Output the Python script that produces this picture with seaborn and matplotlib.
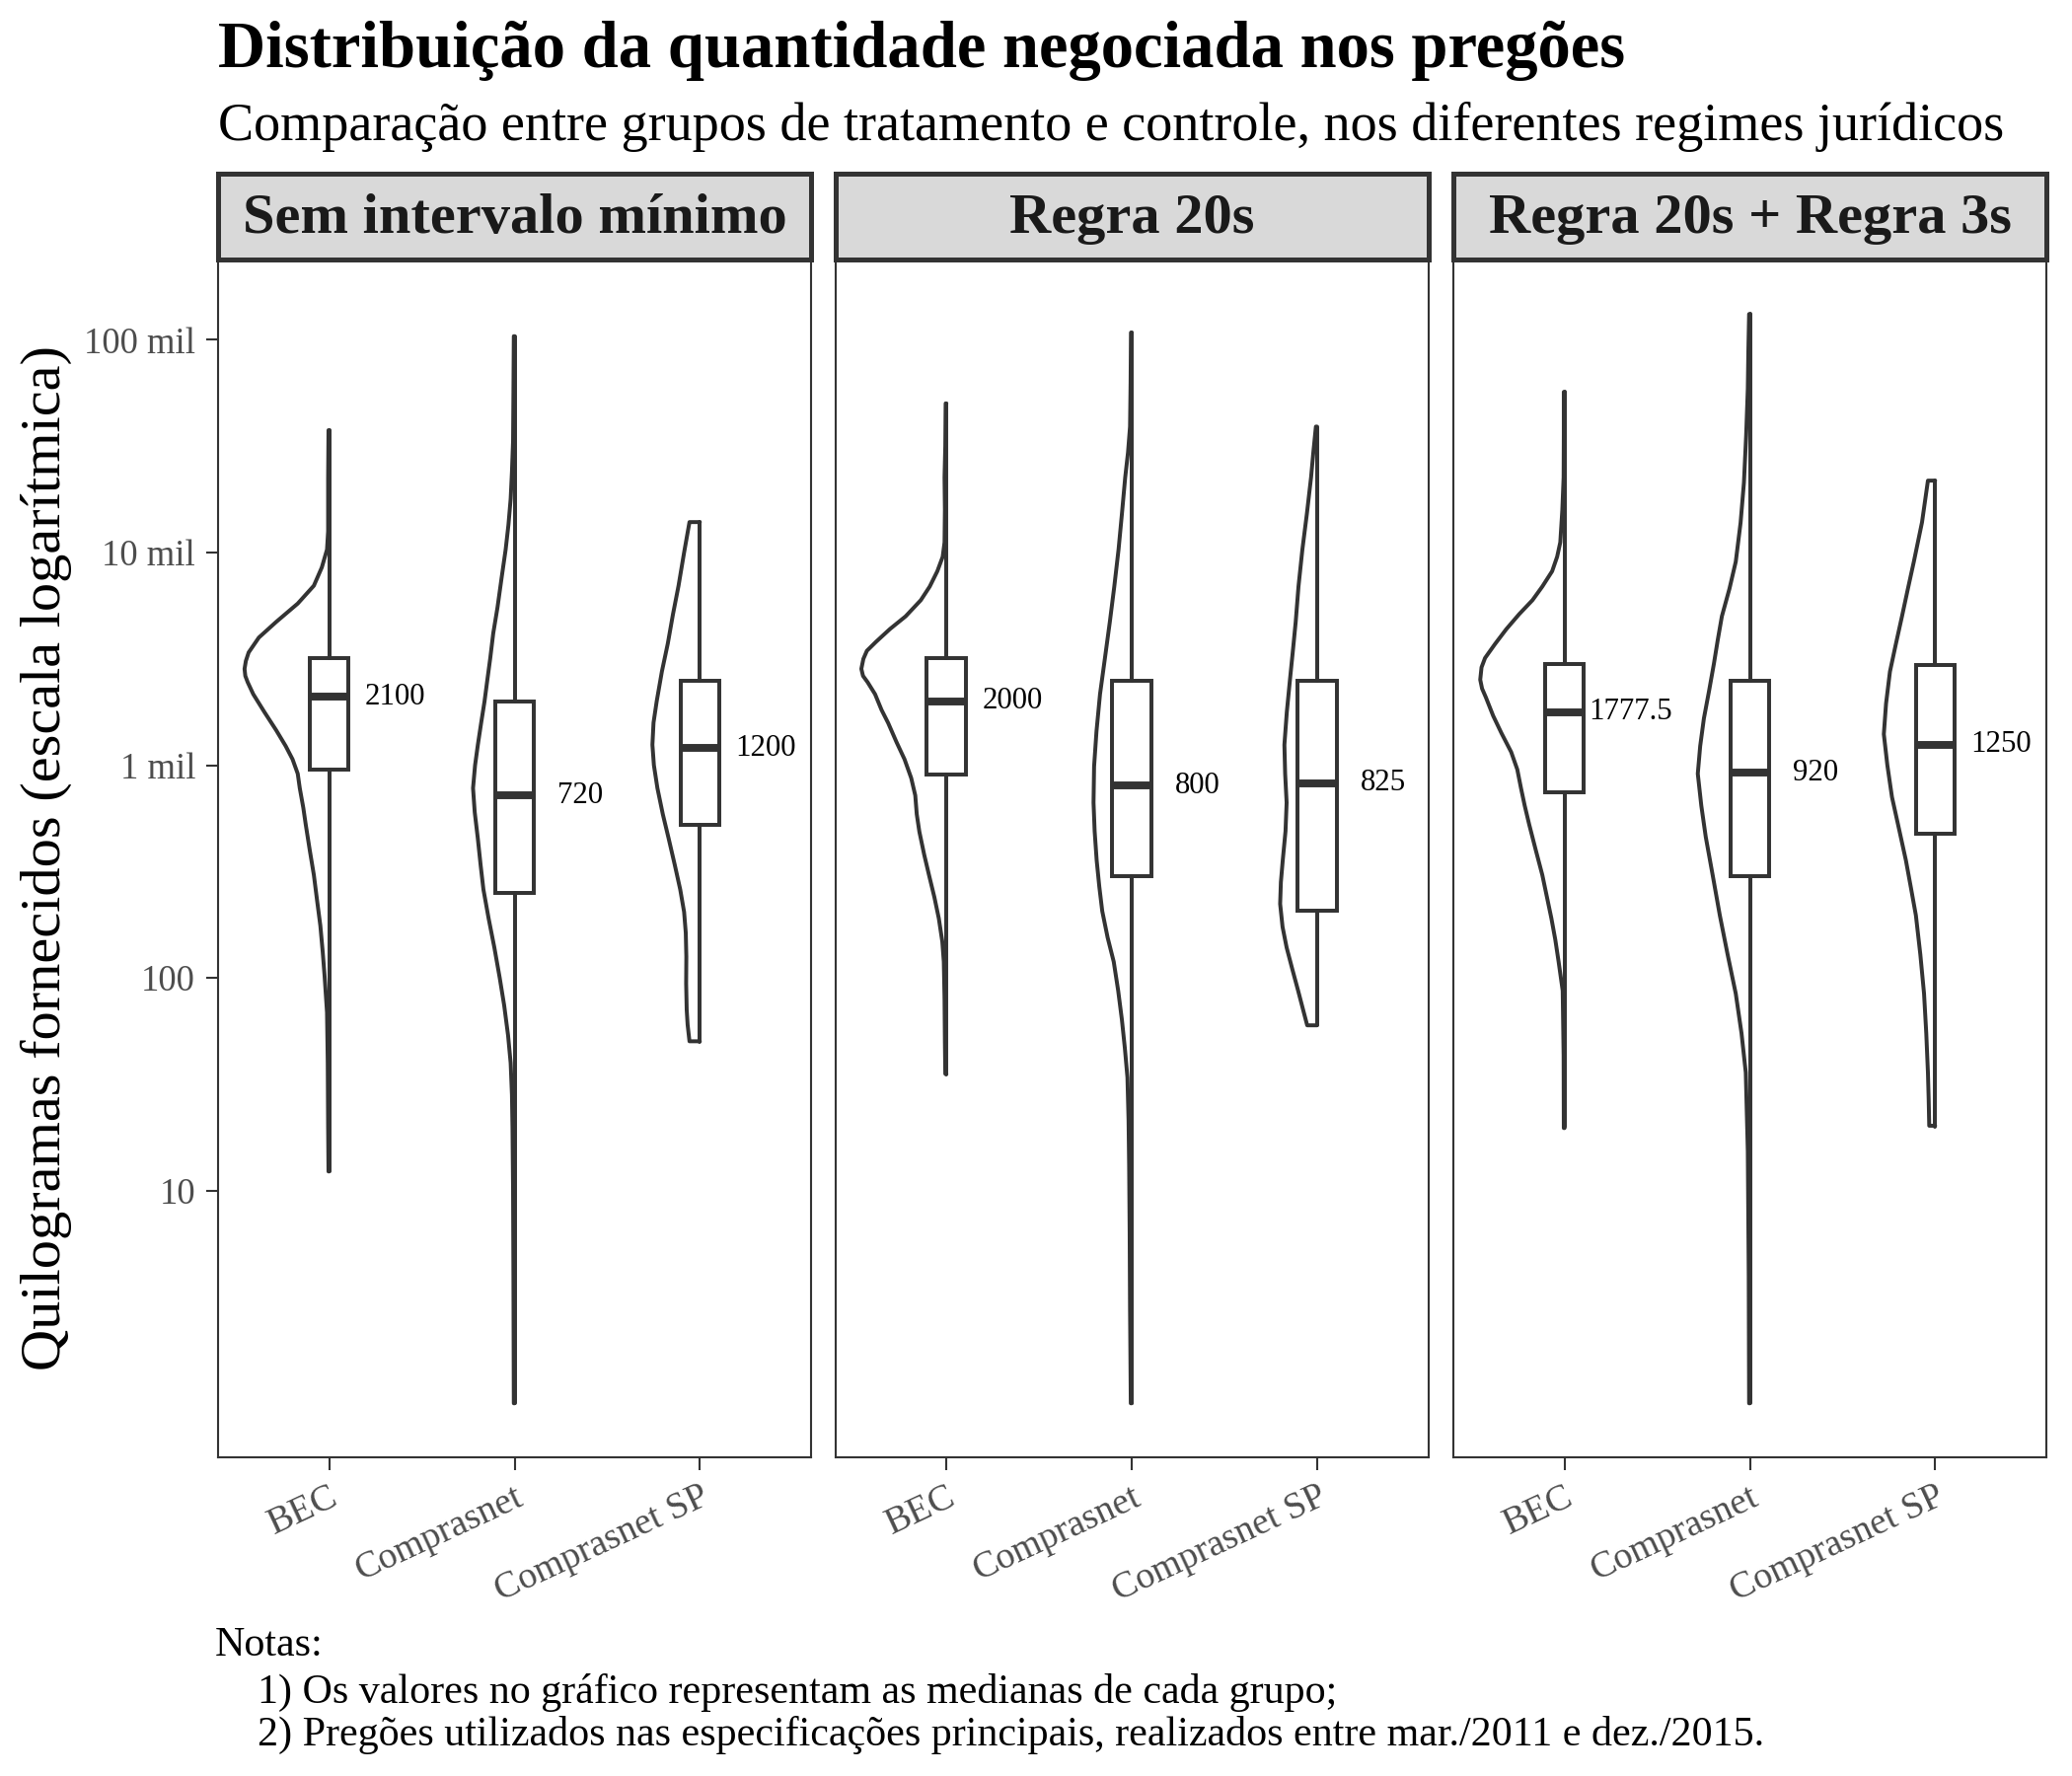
import numpy as np
import pandas as pd
import matplotlib.pyplot as plt
import seaborn as sns
from matplotlib.ticker import NullLocator

# ─────────────────────────────────────────────
# SETTINGS
# ─────────────────────────────────────────────
sns.set_theme(style="white")
plt.rcParams['font.family'] = ['Liberation Serif', 'DejaVu Serif']
plt.rcParams['axes.unicode_minus'] = False

ESCURO = '#333333'
CINZA = '#4D4D4D'

# ─────────────────────────────────────────────
# DATA (kg)
# ─────────────────────────────────────────────
regimes = ["Sem intervalo mínimo", "Regra 20s", "Regra 20s + Regra 3s"]
plataformas = ["BEC", "Comprasnet", "Comprasnet SP"]

# box statistics, one list per regime, order = plataformas
medianas_sem = [2100, 720, 1200]
q1_sem = [950, 250, 525]
q3_sem = [3200, 2000, 2500]
min_sem = [12.3, 1, 50]
max_sem = [37600, 104000, 13900]

medianas_20s = [2000, 800, 825]
q1_20s = [900, 300, 206]
q3_20s = [3200, 2500, 2500]
min_20s = [35, 1, 60]
max_20s = [50000, 108000, 39000]

medianas_3s = [1777.5, 920, 1250]
q1_3s = [745, 300, 478]
q3_3s = [3000, 2500, 2950]
min_3s = [20, 1, 20]
max_3s = [57000, 132000, 21800]

# violin outlines: log10(kg) levels and half-widths (x units), top to bottom
niv_sem_bec = [4.575, 4.35, 4.10, 4.014, 3.93, 3.844, 3.76, 3.674, 3.60, 3.53, 3.49, 3.453, 3.42,
               3.39, 3.334, 3.25, 3.164, 3.09, 3.028, 2.96, 2.892, 2.80, 2.722, 2.60, 2.484, 2.36,
               2.246, 2.12, 2.008, 1.838, 1.60, 1.30, 1.09]
lar_sem_bec = [0.004, 0.006, 0.006, 0.012, 0.04, 0.083, 0.17, 0.286, 0.38, 0.435, 0.45, 0.457, 0.453,
               0.44, 0.41, 0.35, 0.286, 0.235, 0.198, 0.17, 0.159, 0.14, 0.127, 0.105, 0.083, 0.065,
               0.048, 0.035, 0.025, 0.012, 0.008, 0.006, 0.004]

niv_sem_cn = [5.017, 4.75, 4.524, 4.38, 4.252, 4.13, 4.014, 3.88, 3.742, 3.62, 3.504, 3.40, 3.30,
              3.20, 3.096, 3.00, 2.892, 2.78, 2.654, 2.53, 2.416, 2.28, 2.143, 2.00, 1.871, 1.73,
              1.60, 1.45, 1.293, 1.00, 0.60, 0.0]
lar_sem_cn = [0.004, 0.006, 0.008, 0.014, 0.021, 0.033, 0.048, 0.07, 0.092, 0.115, 0.131, 0.147, 0.162,
              0.18, 0.198, 0.213, 0.224, 0.215, 0.198, 0.183, 0.168, 0.14, 0.109, 0.08, 0.056, 0.035,
              0.021, 0.014, 0.011, 0.008, 0.006, 0.004]

niv_sem_sp = [4.143, 4.00, 3.844, 3.71, 3.572, 3.44, 3.30, 3.20, 3.096, 3.00, 2.892, 2.77, 2.654,
              2.53, 2.416, 2.31, 2.212, 2.10, 1.974, 1.85, 1.78, 1.702]
lar_sem_sp = [0.056, 0.085, 0.115, 0.145, 0.173, 0.205, 0.233, 0.25, 0.256, 0.248, 0.229, 0.2, 0.168,
              0.135, 0.106, 0.085, 0.076, 0.073, 0.074, 0.071, 0.066, 0.056]

niv_20s_bec = [4.701, 4.50, 4.354, 4.20, 4.048, 3.98, 3.912, 3.84, 3.776, 3.70, 3.64, 3.58, 3.538,
               3.50, 3.453, 3.42, 3.39, 3.334, 3.26, 3.198, 3.11, 3.028, 2.94, 2.858, 2.77, 2.688,
               2.58, 2.484, 2.38, 2.28, 2.17, 2.076, 1.90, 1.70, 1.549]
lar_20s_bec = [0.004, 0.006, 0.01, 0.008, 0.01, 0.02, 0.049, 0.09, 0.138, 0.22, 0.305, 0.38, 0.429,
               0.448, 0.459, 0.45, 0.425, 0.385, 0.35, 0.314, 0.27, 0.226, 0.19, 0.168, 0.16, 0.146,
               0.12, 0.094, 0.065, 0.041, 0.022, 0.014, 0.01, 0.008, 0.006]

niv_20s_cn = [5.034, 4.80, 4.592, 4.47, 4.354, 4.18, 4.014, 3.84, 3.674, 3.50, 3.334, 3.16, 2.994,
              2.824, 2.69, 2.552, 2.43, 2.314, 2.19, 2.076, 1.94, 1.804, 1.67, 1.532, 1.33, 1.124,
              0.80, 0.444, 0.0]
lar_20s_cn = [0.004, 0.006, 0.009, 0.02, 0.035, 0.053, 0.071, 0.094, 0.118, 0.145, 0.171, 0.19, 0.203,
              0.206, 0.2, 0.189, 0.175, 0.159, 0.13, 0.097, 0.073, 0.053, 0.037, 0.023, 0.017, 0.014,
              0.011, 0.009, 0.005]

niv_20s_sp = [4.592, 4.47, 4.354, 4.18, 4.014, 3.84, 3.674, 3.54, 3.402, 3.25, 3.096, 2.96, 2.824,
              2.69, 2.552, 2.45, 2.348, 2.24, 2.143, 2.04, 1.94, 1.86, 1.777]
lar_20s_sp = [0.006, 0.02, 0.032, 0.055, 0.079, 0.1, 0.115, 0.13, 0.146, 0.163, 0.176, 0.172, 0.164,
              0.17, 0.185, 0.195, 0.199, 0.186, 0.164, 0.133, 0.102, 0.078, 0.053]

niv_3s_bec = [4.755, 4.55, 4.354, 4.20, 4.048, 3.98, 3.912, 3.84, 3.776, 3.71, 3.64, 3.57, 3.504,
              3.46, 3.402, 3.36, 3.32, 3.232, 3.15, 3.062, 2.98, 2.892, 2.81, 2.722, 2.60, 2.484,
              2.38, 2.28, 2.18, 2.076, 1.94, 1.634, 1.294]
lar_3s_bec = [0.004, 0.004, 0.005, 0.012, 0.023, 0.04, 0.067, 0.12, 0.173, 0.245, 0.314, 0.375, 0.429,
              0.448, 0.455, 0.445, 0.425, 0.385, 0.34, 0.288, 0.255, 0.235, 0.215, 0.191, 0.155, 0.12,
              0.095, 0.071, 0.05, 0.032, 0.01, 0.005, 0.004]

niv_3s_cn = [5.121, 4.95, 4.77, 4.55, 4.328, 4.14, 3.957, 3.83, 3.70, 3.59, 3.477, 3.35, 3.22,
             3.09, 2.96, 2.81, 2.663, 2.48, 2.294, 2.11, 1.926, 1.74, 1.555, 1.185, 0.6, 0.0]
lar_3s_cn = [0.004, 0.008, 0.011, 0.02, 0.032, 0.05, 0.076, 0.11, 0.151, 0.173, 0.194, 0.22, 0.248,
             0.268, 0.281, 0.262, 0.238, 0.2, 0.162, 0.12, 0.076, 0.045, 0.022, 0.011, 0.006, 0.004]

niv_3s_sp = [4.338, 4.24, 4.142, 3.957, 3.83, 3.70, 3.57, 3.44, 3.29, 3.146, 3.00, 2.85, 2.70,
             2.553, 2.42, 2.294, 2.11, 1.926, 1.74, 1.555, 1.43, 1.305]
lar_3s_sp = [0.039, 0.055, 0.071, 0.115, 0.147, 0.179, 0.212, 0.244, 0.265, 0.277, 0.258, 0.233, 0.195,
             0.158, 0.13, 0.104, 0.08, 0.06, 0.048, 0.039, 0.035, 0.032]

y_ticks = [10, 100, 1000, 10000, 100000]
y_tick_labels = ["10", "100", "1 mil", "10 mil", "100 mil"]

titulo = "Distribuição da quantidade negociada nos pregões"
subtitulo = "Comparação entre grupos de tratamento e controle, nos diferentes regimes jurídicos"
rotulo_y = "Quilogramas fornecidos (escala logarítmica)"
notas = ["Notas:",
         "1) Os valores no gráfico representam as medianas de cada grupo;",
         "2) Pregões utilizados nas especificações principais, realizados entre mar./2011 e dez./2015."]

# grouped per facet
caixas = [
    (medianas_sem, q1_sem, q3_sem, min_sem, max_sem),
    (medianas_20s, q1_20s, q3_20s, min_20s, max_20s),
    (medianas_3s, q1_3s, q3_3s, min_3s, max_3s),
]
violinos = [
    [(niv_sem_bec, lar_sem_bec), (niv_sem_cn, lar_sem_cn), (niv_sem_sp, lar_sem_sp)],
    [(niv_20s_bec, lar_20s_bec), (niv_20s_cn, lar_20s_cn), (niv_20s_sp, lar_20s_sp)],
    [(niv_3s_bec, lar_3s_bec), (niv_3s_cn, lar_3s_cn), (niv_3s_sp, lar_3s_sp)],
]


def desenha_violino(ax, pos, niveis, larguras):
    """Left half-violin, flat (trimmed) ends, closed along the category line."""
    y = 10 ** np.asarray(niveis)
    x = pos - np.asarray(larguras)
    ax.fill_betweenx(y, x, pos, facecolor='white', edgecolor='none', zorder=1)
    contorno = pd.DataFrame({'x': np.r_[pos, x, pos], 'y': np.r_[y[0], y, y[-1]]})
    sns.lineplot(data=contorno, x='x', y='y', sort=False, estimator=None,
                 color=ESCURO, linewidth=0.95, ax=ax, zorder=2)


# ─────────────────────────────────────────────
# FIGURE
# ─────────────────────────────────────────────
fig = plt.figure(figsize=(7, 6), dpi=300)
fig.patch.set_facecolor('white')

W, H = 2100, 1800
esq = [221 / W, 846.5 / W, 1473 / W]
larg = 601 / W
base = 1 - 1477 / H
alt = (1477 - 262.5) / H
faixa = (262.5 - 175.5) / H

for k, regime in enumerate(regimes):
    ax = fig.add_axes([esq[k], base, larg, alt])
    ax.set_facecolor('white')
    ax.set_yscale('log')

    meds, q1s, q3s, mins, maxs = caixas[k]
    for i in range(len(plataformas)):
        niveis, larguras = violinos[k][i]
        desenha_violino(ax, i, niveis, larguras)
        stats = [dict(med=meds[i], q1=q1s[i], q3=q3s[i],
                      whislo=mins[i], whishi=maxs[i], fliers=[])]
        ax.bxp(stats, positions=[i], widths=0.21, showcaps=False, showfliers=False,
               patch_artist=True, zorder=3,
               boxprops=dict(facecolor='white', edgecolor=ESCURO, linewidth=0.95),
               medianprops=dict(color=ESCURO, linewidth=1.9, solid_capstyle='butt'),
               whiskerprops=dict(color=ESCURO, linewidth=0.95))
        ax.text(i + 0.355, meds[i], f"{meds[i]:g}", ha='center', va='center',
                fontsize=7.4, color='black', zorder=4)

    ax.set_xlim(-0.6, 2.6)
    ax.set_ylim(10 ** -0.254, 10 ** 5.38)
    ax.set_xlabel('')
    ax.set_ylabel('')
    ax.set_xticks(range(len(plataformas)))
    ax.set_xticklabels(plataformas, rotation=25, ha='right', rotation_mode='anchor',
                       fontsize=9.1, color=CINZA)
    ax.yaxis.set_minor_locator(NullLocator())
    ax.set_yticks(y_ticks)
    ax.set_yticklabels(y_tick_labels, fontsize=8.8, color=CINZA)
    ax.tick_params(axis='both', length=3, width=0.5, color=ESCURO, pad=2.5,
                   bottom=True, left=(k == 0), labelleft=(k == 0))
    for s in ax.spines.values():
        s.set_color(ESCURO)
        s.set_linewidth(0.5)
    ax.grid(False)

    # facet strip
    sax = fig.add_axes([esq[k], base + alt, larg, faixa])
    sax.set_facecolor('#D9D9D9')
    sax.set_xticks([])
    sax.set_yticks([])
    for s in sax.spines.values():
        s.set_color(ESCURO)
        s.set_linewidth(1.2)
    sax.text(0.5, 0.31, regime, ha='center', va='baseline', fontsize=14,
             fontweight='bold', color='#1A1A1A', transform=sax.transAxes)

fig.text(esq[0], 1 - 68 / H, titulo, fontsize=16, fontweight='bold', va='baseline', color='black')
fig.text(esq[0], 1 - 142 / H, subtitulo, fontsize=13, va='baseline', color='black')
fig.text(47 / W, 0.517, rotulo_y, rotation=90, ha='center', va='center', fontsize=14, color='black')

fig.text(218 / W, 1 - 1678 / H, notas[0], fontsize=10.1, va='baseline', color='black')
fig.text(261 / W, 1 - 1726 / H, notas[1], fontsize=10.1, va='baseline', color='black')
fig.text(261 / W, 1 - 1769 / H, notas[2], fontsize=10.1, va='baseline', color='black')

fig.savefig('out.png', dpi=300, facecolor='white')
